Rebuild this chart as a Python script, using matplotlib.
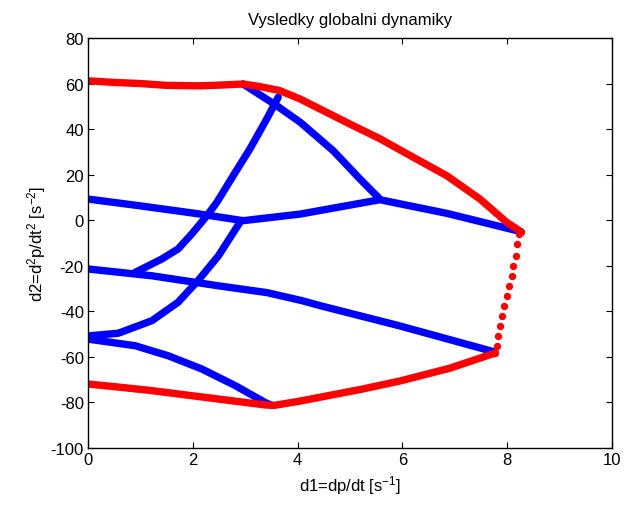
import matplotlib
matplotlib.use("Agg")
import matplotlib.pyplot as plt

plt.rcParams['font.family'] = ['Liberation Sans', 'DejaVu Sans']
plt.rcParams['mathtext.default'] = 'regular'
plt.rcParams['axes.unicode_minus'] = False

# Red upper boundary
red_top_x = [0, 0.5, 1.0, 1.5, 2.14, 2.5, 2.96, 3.3, 3.66, 4.05, 4.68, 5.0, 5.57, 6.21, 6.85, 7.48, 7.99, 8.26]
red_top_y = [61.2, 60.5, 60.0, 59.2, 59.0, 59.3, 59.8, 58.6, 56.9, 53.2, 45.9, 42.2, 35.8, 27.6, 19.5, 9.3, -0.9, -5.0]

# Red lower boundary
red_bot_x = [0, 0.6, 1.22, 1.9, 2.49, 3.0, 3.38, 3.55, 4.0, 4.43, 5.2, 5.95, 6.9, 7.77]
red_bot_y = [-71.9, -73.3, -74.8, -76.8, -78.5, -80.0, -81.1, -81.3, -79.6, -77.7, -74.3, -70.6, -65.0, -58.3]

# Red sparse dotted segment
red_dot_x = [7.77, 7.80, 7.83, 7.86, 7.91, 7.94, 8.00, 8.03, 8.09, 8.11, 8.17, 8.19, 8.23, 8.26]
red_dot_y = [-58.3, -55.4, -51.0, -46.6, -42.2, -37.8, -33.3, -28.9, -24.5, -20.1, -15.6, -10.6, -6.1, -5.0]

# Blue curves
blue1_x = [2.96, 3.6, 4.05, 4.68, 5.19, 5.57]
blue1_y = [59.8, 50.3, 43.0, 30.5, 18.1, 9.3]

blue2_x = [0, 1.0, 2.14, 2.96, 4.05, 5.57, 6.85, 8.26]
blue2_y = [9.3, 6.3, 2.7, -0.2, 2.7, 9.0, 3.0, -5.0]

blue3_x = [0.9, 1.41, 1.72, 2.0, 2.27, 2.46, 2.77, 3.09, 3.41, 3.63]
blue3_y = [-22.9, -17.0, -12.6, -5.5, 2.0, 7.9, 19.5, 31.3, 44.4, 54.0]

blue4_x = [0, 0.58, 1.22, 1.72, 2.1, 2.49, 2.9]
blue4_y = [-50.8, -49.6, -44.1, -36.0, -26.5, -15.6, -0.9]

blue5_x = [0, 1.22, 2.49, 3.42, 4.08, 4.43, 5.95, 7.77]
blue5_y = [-21.4, -24.4, -28.8, -31.8, -35.3, -37.5, -46.4, -57.9]

blue6_x = [0, 0.9, 1.53, 2.17, 2.81, 3.38, 3.5]
blue6_y = [-52.2, -55.1, -59.5, -65.3, -72.6, -80.0, -81.2]

fig = plt.figure(figsize=(6.24, 5.06), dpi=100)
ax = fig.add_axes([88/624, 1 - 449/506, (612 - 88)/624, (449 - 39)/506])

lw = 5.3
kw = dict(linewidth=lw, solid_capstyle='round', solid_joinstyle='round')
for bx, by in [(blue1_x, blue1_y), (blue2_x, blue2_y), (blue3_x, blue3_y),
               (blue4_x, blue4_y), (blue5_x, blue5_y), (blue6_x, blue6_y)]:
    ax.plot(bx, by, color='#0000ff', **kw)

ax.plot(red_top_x, red_top_y, color='#ff0000', **kw)
ax.plot(red_bot_x, red_bot_y, color='#ff0000', **kw)
ax.plot(red_dot_x, red_dot_y, linestyle='none', marker='o', markersize=5.3,
        color='#ff0000', markeredgewidth=0)

ax.set_xlim(0, 10)
ax.set_ylim(-100, 80)
ax.set_xticks([0, 2, 4, 6, 8, 10])
ax.set_yticks(list(range(-100, 81, 20)))
ax.tick_params(direction='in', length=4, width=0.8, top=True, right=True, labelsize=12, pad=3)
for s in ax.spines.values():
    s.set_linewidth(1.0)

ax.set_title('Vysledky globalni dynamiky', fontsize=12, pad=10)
ax.set_xlabel('d1=dp/dt [s$^{-1}$]', fontsize=12, labelpad=4)
ax.set_ylabel('d2=d$^2$p/dt$^2$ [s$^{-2}$]', fontsize=12, labelpad=2)

fig.savefig('out.png', dpi=100)
